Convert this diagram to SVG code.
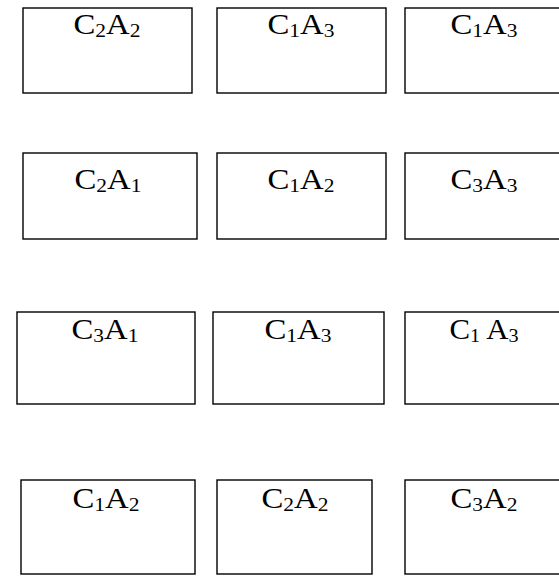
<svg xmlns="http://www.w3.org/2000/svg" width="559" height="577" viewBox="0 0 559 577">
<style>
.box{fill:#fff;stroke:#000;stroke-width:1.4}
.t{font-family:"Liberation Serif","Times New Roman",serif;font-size:29px;fill:#000;text-anchor:middle}
.s{font-size:19px}
</style>
<rect width="559" height="577" fill="#fff"/>
<g id="n1"><rect class="box" x="23" y="8" width="169" height="85"/><text class="t" x="107" y="34" textLength="67" lengthAdjust="spacingAndGlyphs">C<tspan class="s" dy="3">2</tspan><tspan dy="-3">A</tspan><tspan class="s" dy="3">2</tspan></text></g>
<g id="n2"><rect class="box" x="217" y="8" width="169" height="85"/><text class="t" x="301" y="34" textLength="67" lengthAdjust="spacingAndGlyphs">C<tspan class="s" dy="3">1</tspan><tspan dy="-3">A</tspan><tspan class="s" dy="3">3</tspan></text></g>
<g id="n3"><rect class="box" x="405" y="8" width="160" height="85"/><text class="t" x="484" y="34" textLength="67" lengthAdjust="spacingAndGlyphs">C<tspan class="s" dy="3">1</tspan><tspan dy="-3">A</tspan><tspan class="s" dy="3">3</tspan></text></g>
<g id="n4"><rect class="box" x="23" y="153" width="174" height="86"/><text class="t" x="108" y="189" textLength="67" lengthAdjust="spacingAndGlyphs">C<tspan class="s" dy="3">2</tspan><tspan dy="-3">A</tspan><tspan class="s" dy="3">1</tspan></text></g>
<g id="n5"><rect class="box" x="217" y="153" width="169" height="86"/><text class="t" x="301" y="189" textLength="67" lengthAdjust="spacingAndGlyphs">C<tspan class="s" dy="3">1</tspan><tspan dy="-3">A</tspan><tspan class="s" dy="3">2</tspan></text></g>
<g id="n6"><rect class="box" x="405" y="153" width="160" height="86"/><text class="t" x="484" y="189" textLength="67" lengthAdjust="spacingAndGlyphs">C<tspan class="s" dy="3">3</tspan><tspan dy="-3">A</tspan><tspan class="s" dy="3">3</tspan></text></g>
<g id="n7"><rect class="box" x="17" y="312" width="178" height="92"/><text class="t" x="105" y="339" textLength="67" lengthAdjust="spacingAndGlyphs">C<tspan class="s" dy="3">3</tspan><tspan dy="-3">A</tspan><tspan class="s" dy="3">1</tspan></text></g>
<g id="n8"><rect class="box" x="213" y="312" width="171" height="92"/><text class="t" x="298" y="339" textLength="67" lengthAdjust="spacingAndGlyphs">C<tspan class="s" dy="3">1</tspan><tspan dy="-3">A</tspan><tspan class="s" dy="3">3</tspan></text></g>
<g id="n9"><rect class="box" x="405" y="312" width="160" height="92"/><text class="t" x="484" y="339" textLength="69" lengthAdjust="spacingAndGlyphs">C<tspan class="s" dy="3">1</tspan><tspan dy="-3"> A</tspan><tspan class="s" dy="3">3</tspan></text></g>
<g id="n10"><rect class="box" x="21" y="480" width="174" height="94"/><text class="t" x="106" y="508" textLength="67" lengthAdjust="spacingAndGlyphs">C<tspan class="s" dy="3">1</tspan><tspan dy="-3">A</tspan><tspan class="s" dy="3">2</tspan></text></g>
<g id="n11"><rect class="box" x="217" y="480" width="155" height="94"/><text class="t" x="295" y="508" textLength="67" lengthAdjust="spacingAndGlyphs">C<tspan class="s" dy="3">2</tspan><tspan dy="-3">A</tspan><tspan class="s" dy="3">2</tspan></text></g>
<g id="n12"><rect class="box" x="405" y="480" width="160" height="94"/><text class="t" x="484" y="508" textLength="67" lengthAdjust="spacingAndGlyphs">C<tspan class="s" dy="3">3</tspan><tspan dy="-3">A</tspan><tspan class="s" dy="3">2</tspan></text></g>
<g id="connectors"/>
</svg>
